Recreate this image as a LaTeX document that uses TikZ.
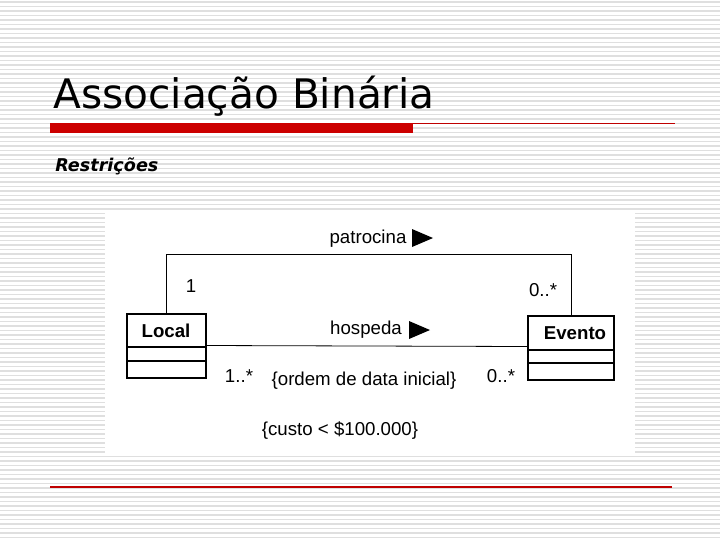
\documentclass[tikz,border=0pt]{standalone}
\usepackage{fontspec}
\setmainfont{Liberation Sans}
\newfontfamily\titlefont{DejaVu Sans}
\begin{document}
\begin{tikzpicture}[x=0.75pt,y=-0.75pt,
  cls/.style={draw,line width=2.2pt},
  lbl/.style={font=\fontsize{14}{16}\selectfont,inner sep=0pt},
  tri/.style={fill=black}]
\useasboundingbox (0,0) rectangle (720,540);
\fill[white] (0,0) rectangle (720,540);
\foreach \i in {0,...,120} {\draw[gray!25,line width=0.8pt] (0,2+4.5*\i) -- (720,2+4.5*\i);}
\node[anchor=base west,inner sep=0pt,font=\titlefont\fontsize{30.5}{32}\selectfont] (title) at (53,108) {Associação Binária};
\fill[red!80!black] (50,123) rectangle (413,133);
\draw[red!75!black,line width=0.8pt] (413,123.5) -- (675,123.5);
\draw[red!75!black,line width=0.8pt] (50,487) -- (672,487);
\node[anchor=base west,inner sep=0pt,font=\titlefont\bfseries\itshape\fontsize{13.2}{15}\selectfont] (sub) at (55,171) {Restrições};
\fill[white] (105,213) rectangle (635,455);
% classes
\draw[cls] (127,314) rectangle (206,378);
\draw[line width=1.2pt] (127,347) -- (206,347) (127,361) -- (206,361);
\node[lbl,font=\bfseries\fontsize{14}{16}\selectfont] (local) at (166,331) {Local};
\draw[cls] (528,316) rectangle (614,380);
\draw[line width=1.2pt] (528,350) -- (614,350) (528,363) -- (614,363);
\node[lbl,font=\bfseries\fontsize{14}{16}\selectfont] (evento) at (575,333) {Evento};
\coordinate (l1) at (166,313); \coordinate (e1) at (571,315);
\draw[line width=0.6pt] (l1) -- (166,254) -- (571,254) -- (e1);
\coordinate (l2) at (207,345.5); \coordinate (e2) at (527,346.5);
\draw[line width=0.6pt] (l2) -- (e2);
\node[lbl] (patr) at (368,239) {patrocina};
\fill (412,229) -- (433,238) -- (412,247) -- cycle;
\node[lbl] (hosp) at (366,330) {hospeda};
\fill (409,321) -- (430,330) -- (409,339) -- cycle;
\node[lbl] (m1) at (191,286) {1};
\node[lbl] (m2) at (543,290) {0..*};
\node[lbl] (m3) at (239,376) {1..*};
\node[lbl] (m4) at (501,376) {0..*};
\node[lbl] (ord) at (364,381) {\{ordem de data inicial\}};
\node[lbl] (cus) at (340,431) {\{custo < \$100.000\}};
\end{tikzpicture}
\end{document}
